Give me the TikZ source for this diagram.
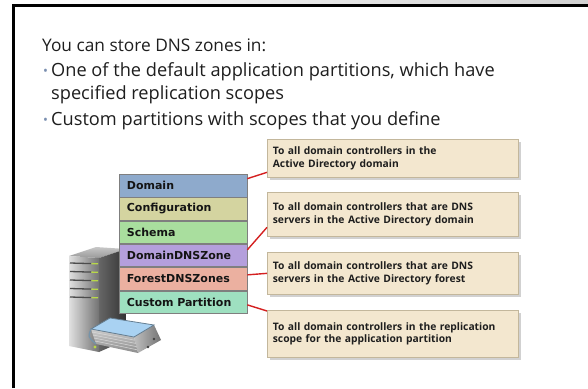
\documentclass[tikz,border=0pt]{standalone}
\usepackage{fontspec}
\setmainfont{Open Sans}
\newfontfamily\stackfont{DejaVu Sans}
\definecolor{partline}{HTML}{7F7F7F}
\definecolor{stacktext}{HTML}{141414}
\definecolor{cdomain}{HTML}{8EAACC}
\definecolor{cconfig}{HTML}{D4D4A0}
\definecolor{cschema}{HTML}{A9DE9E}
\definecolor{cddns}{HTML}{B49FDC}
\definecolor{cfdns}{HTML}{EBB0A0}
\definecolor{ccustom}{HTML}{9EE0C0}
\definecolor{calloutfill}{HTML}{F3E7CF}
\definecolor{calloutline}{HTML}{C3B79C}
\definecolor{linkred}{HTML}{D42020}
\definecolor{bodytext}{HTML}{1E1E1E}
\definecolor{bulletcol}{HTML}{7A8FB0}
\definecolor{coverblue}{HTML}{A9D2F2}
\definecolor{ledgreen}{HTML}{B8D848}
\begin{document}
\begin{tikzpicture}[x=1pt,y=-1pt,
  part/.style={draw=partline, line width=0.8pt, anchor=north west,
    minimum height=22.5pt, inner xsep=7.5pt, inner ysep=0pt,
    text width=112.5pt, align=left, text=stacktext,
    font=\stackfont\bfseries\fontsize{11}{13}\selectfont},
  callout/.style={draw=calloutline, fill=calloutfill, line width=0.7pt,
    anchor=north west, inner xsep=5.5pt, inner ysep=2pt,
    text width=240pt, align=left, text=bodytext,
    font=\bfseries\fontsize{10.3}{12.6}\selectfont},
  shadowbox/.style={fill=black, opacity=0.18},
  link/.style={draw=linkred, line width=1.4pt},
  bodyline/.style={anchor=base west, text=bodytext, inner sep=0pt,
    font=\fontsize{18.2}{21}\selectfont},
  titleline/.style={bodyline, font=\fontsize{17.3}{20}\selectfont},
  dot/.style={anchor=base west, text=bulletcol, inner sep=0pt,
    font=\fontsize{13}{15}\selectfont}]
\useasboundingbox (0,0) rectangle (588,388);

% slide frame
\shade[left color=white, right color=black!18] (14,0) rectangle (588,4);
\draw[line width=3pt] (13.5,388) -- (13.5,5.5) -- (588,5.5);

% text
\node[titleline] (title) at (42,51) {You can store DNS zones in:};
\node[dot] (b1) at (43,75.5) {\textbullet};
\node[bodyline] (l1) at (51,76) {One of the default application partitions, which have};
\node[bodyline] (l2) at (51,99.5) {specified replication scopes};
\node[dot] (b2) at (43,124.5) {\textbullet};
\node[bodyline] (l3) at (51,125) {Custom partitions with scopes that you define};

% server tower
\shade[top color=black!22, bottom color=black!40] (69,256) -- (96,247) -- (126,249) -- (99,258) -- cycle;
\shade[left color=black!60, right color=black!80] (99,258) -- (126,249) -- (126,340) -- (99,352) -- cycle;
\shade[left color=black!12, right color=black!55] (69,256) -- (99,258) -- (99,352) -- (69,346) -- cycle;
\foreach \yy in {263,271.5,280,288.5,297} {
  \draw[black!70, line width=1.3pt] (70,\yy) -- (91,\yy+0.6);
  \draw[ledgreen, line width=1.3pt] (91.5,\yy+0.6) -- (98,\yy+0.8);
}
\fill[ledgreen] (95,347) circle (1.6);

% book on the server
\shade[left color=black!25, right color=black!55] (134,337) -- (154,325) -- (161,340) -- (138,353) -- cycle;
\shade[top color=black!20, bottom color=black!45] (91,329) -- (134,337) -- (138,353) -- (96,344) -- cycle;
\foreach \t in {0.2,0.4,0.6,0.8} {
  \draw[white!85!black, line width=0.5pt] (91+5*\t,329+15*\t) -- (134+4*\t,337+16*\t);
}
\draw[coverblue!60!black, line width=0.8pt, fill=coverblue] (91,329) -- (110,318) -- (154,325) -- (134,337) -- cycle;
\draw[coverblue!70!black, line width=1.3pt] (91,329) .. controls (88,337) .. (96,344);
\fill[black!75] (154,339) circle (1.4);
\fill[black!75] (148,347) circle (1.4);

% partition stack
\node[part, fill=cdomain] (dom) at (119,174) {Domain};
\node[part, fill=cconfig, anchor=north] (cfg) at (dom.south) {Configuration};
\node[part, fill=cschema, anchor=north] (sch) at (cfg.south) {Schema};
\node[part, fill=cddns, anchor=north] (ddns) at (sch.south) {DomainDNSZone};
\node[part, fill=cfdns, anchor=north] (fdns) at (ddns.south) {ForestDNSZones};
\node[part, fill=ccustom, anchor=north] (cust) at (fdns.south) {Custom Partition};

% replication scope callouts
\fill[shadowbox] (269.5,141.5) rectangle (520.5,179.5);
\node[callout, minimum height=38pt] (c1) at (267,139) {To all domain controllers in the\\Active Directory domain};
\fill[shadowbox] (269.5,194.5) rectangle (520.5,238.5);
\node[callout, minimum height=44pt] (c2) at (267,192) {To all domain controllers that are DNS\\servers in the Active Directory domain};
\fill[shadowbox] (269.5,254.5) rectangle (520.5,296.5);
\node[callout, minimum height=42pt] (c3) at (267,252) {To all domain controllers that are DNS\\servers in the Active Directory forest};
\fill[shadowbox] (269.5,312.5) rectangle (520.5,359.5);
\node[callout, minimum height=47pt] (c4) at (267,310) {To all domain controllers in the replication\\scope for the application partition};

% connectors
\draw[link] ([yshift=7pt]dom.east) -- ([yshift=-14pt]c1.west);
\draw[link] ([yshift=5.7pt]ddns.east) -- ([yshift=-13pt]c2.west);
\draw[link] ([yshift=4pt]fdns.east) -- (c3.west);
\draw[link] ([yshift=-2.7pt]cust.east) -- ([yshift=-1pt]c4.north west);
\end{tikzpicture}
\end{document}
